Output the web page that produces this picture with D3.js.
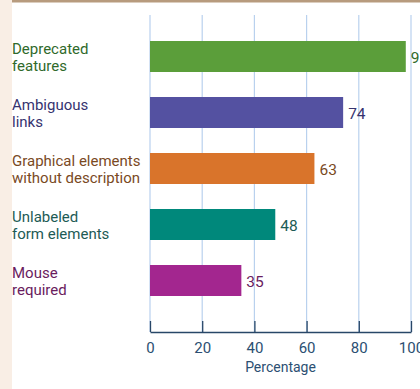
<!DOCTYPE html>
<html><head><meta charset="utf-8">
<script src="https://cdn.jsdelivr.net/npm/d3@7"></script>
<style>
html,body{margin:0;padding:0;background:#fff;overflow:hidden;}
svg{display:block;}
text{font-family:Roboto,"Noto Sans",sans-serif;}
</style></head>
<body>
<svg id="chart" width="420" height="389"></svg>
<script>
const categories = [
  ["Deprecated", "features"],
  ["Ambiguous", "links"],
  ["Graphical elements", "without description"],
  ["Unlabeled", "form elements"],
  ["Mouse", "required"]
];
const values = [98, 74, 63, 48, 35];
const barColors = ["#5b9e3a", "#5451a1", "#d9742b", "#00887b", "#a3268f"];
const labelColors = ["#2f6a2b", "#36336f", "#7a4a1f", "#1d5b55", "#6a1c5e"];
const ticks = [0, 20, 40, 60, 80, 100];
const axisTitle = "Percentage";

const svg = d3.select("#chart");
const W = 420, H = 389;

// page decorations
svg.append("rect").attr("x", 0).attr("y", 0).attr("width", 12).attr("height", H).attr("fill", "#f9eee5");
svg.append("rect").attr("x", 12).attr("y", 0).attr("width", W - 12).attr("height", 2.5).attr("fill", "#b79b7e");

const x = d3.scaleLinear().domain([0, 100]).range([150, 411]);
const ids = categories.map((c, i) => i);
const y = d3.scaleBand().domain(ids).range([28.5, 308.5])
  .paddingInner(25 / 56).paddingOuter(12.5 / 56);

const axisY = 332, gridTop = 15;

// gridlines
svg.append("g").selectAll("line").data(ticks).join("line")
  .attr("x1", d => x(d)).attr("x2", d => x(d))
  .attr("y1", gridTop).attr("y2", axisY)
  .attr("stroke", "#b9d1ee").attr("stroke-width", 1.2);

// bars
svg.append("g").selectAll("rect").data(ids).join("rect")
  .attr("x", x(0)).attr("y", i => y(i))
  .attr("width", i => x(values[i]) - x(0))
  .attr("height", y.bandwidth())
  .attr("fill", i => barColors[i]);

// value labels
svg.append("g").selectAll("text").data(ids).join("text")
  .attr("x", i => x(values[i]) + 5)
  .attr("y", i => y(i) + y.bandwidth() / 2 + 6)
  .attr("font-size", 15.5)
  .attr("fill", i => labelColors[i])
  .text(i => values[i]);

// category labels
const cl = svg.append("g").selectAll("text").data(ids).join("text")
  .attr("x", 12)
  .attr("y", i => y(i) + y.bandwidth() / 2 - 3)
  .attr("font-size", 15)
  .attr("fill", i => labelColors[i]);
cl.selectAll("tspan").data(i => categories[i]).join("tspan")
  .attr("x", 12).attr("dy", (d, j) => j === 0 ? 0 : 17.5)
  .text(d => d);

// axis
const axis = d3.axisBottom(x).tickValues(ticks).tickSize(-11).tickSizeOuter(0).tickPadding(10);
const ag = svg.append("g").attr("transform", `translate(0,${axisY})`).call(axis);
ag.select(".domain").attr("stroke", "#284768").attr("stroke-width", 1.5);
ag.selectAll(".tick line").attr("stroke", "#284768").attr("stroke-width", 1.3);
ag.selectAll(".tick text").attr("fill", "#2c4f72").attr("font-size", 15)
  .attr("font-family", "Roboto, 'Noto Sans', sans-serif");

svg.append("text").attr("x", (x(0) + x(100)) / 2).attr("y", 372)
  .attr("text-anchor", "middle").attr("font-size", 14)
  .attr("fill", "#2c4f72").text(axisTitle);
</script>
</body></html>
